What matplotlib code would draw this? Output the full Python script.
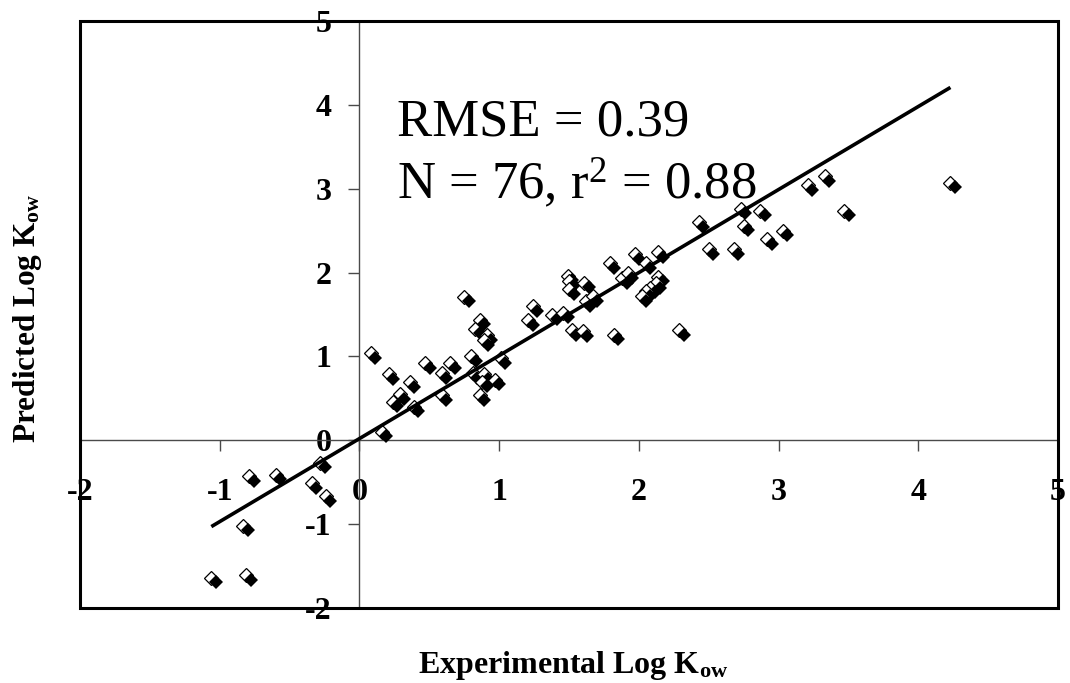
import matplotlib
matplotlib.use('Agg')
import matplotlib.pyplot as plt
from matplotlib.transforms import ScaledTranslation
from matplotlib.patches import Rectangle

plt.rcParams['font.family'] = ['Liberation Serif', 'DejaVu Serif']
plt.rcParams['mathtext.fontset'] = 'custom'
plt.rcParams['mathtext.rm'] = 'Liberation Serif'
plt.rcParams['mathtext.bf'] = 'Liberation Serif:bold'
plt.rcParams['mathtext.it'] = 'Liberation Serif:italic'

# ---- data ----
experimental = [-1.06, -0.81, -0.83, -0.79, -0.60, -0.28, -0.34, -0.24,
                0.16, 0.08, 0.21, 0.29, 0.24, 0.36, 0.39, 0.47, 0.59, 0.65, 0.59, 0.80,
                0.81, 0.89, 0.88, 0.97, 0.86, 1.01, 0.75, 0.86, 0.83, 0.91, 0.89,
                1.24, 1.21, 1.38, 1.46, 1.49, 1.50, 1.50, 1.61, 1.62, 1.67, 1.52, 1.60,
                1.82, 1.79, 1.97, 2.14, 2.05, 1.88, 1.92, 2.14, 2.12, 2.08, 2.05, 2.02, 2.29,
                2.43, 2.73, 2.87, 2.75, 2.50, 2.68, 2.92, 3.03, 3.21, 3.33, 3.47, 4.23]
predicted = [-1.64, -1.61, -1.02, -0.43, -0.41, -0.27, -0.51, -0.67,
             0.10, 1.04, 0.79, 0.55, 0.46, 0.69, 0.40, 0.92, 0.80, 0.92, 0.54, 1.00,
             0.80, 0.79, 0.70, 0.72, 0.54, 0.98, 1.71, 1.44, 1.33, 1.25, 1.19,
             1.60, 1.43, 1.50, 1.52, 1.96, 1.90, 1.80, 1.88, 1.66, 1.72, 1.31, 1.30,
             1.26, 2.11, 2.22, 2.24, 2.11, 1.93, 1.99, 1.95, 1.87, 1.82, 1.78, 1.72, 1.31,
             2.60, 2.76, 2.74, 2.56, 2.28, 2.28, 2.40, 2.50, 3.04, 3.15, 2.74, 3.07]
fit_slope = 0.99
fit_intercept = 0.02
x_ticks = [-2, -1, 0, 1, 2, 3, 4, 5]
x_tick_labels = ['-2', '-1', '0', '1', '2', '3', '4', '5']
y_ticks = [-2, -1, 0, 1, 2, 3, 4, 5]
y_tick_labels = ['-2', '-1', '0', '1', '2', '3', '4', '5']
stats_line1 = 'RMSE = 0.39'
stats_line2 = r'N = 76, $\mathrm{r}^{2}$ = 0.88'

# ---- figure ----
W, H = 1070, 683
fig = plt.figure(figsize=(W / 100, H / 100), dpi=100)
ax = fig.add_axes([80 / W, 1 - 608 / H, 978 / W, 587 / H])
ax.set_xlim(-2, 5)
ax.set_ylim(-2, 5)

ax.spines['left'].set_position(('data', 0))
ax.spines['bottom'].set_position(('data', 0))
ax.spines['top'].set_visible(False)
ax.spines['right'].set_visible(False)
for s in ('left', 'bottom'):
    ax.spines[s].set_color('#4a4a4a')
    ax.spines[s].set_linewidth(1.0)

ax.set_xticks(x_ticks)
ax.set_xticklabels(x_tick_labels, fontweight='bold')
ax.set_yticks(y_ticks)
ax.set_yticklabels(y_tick_labels, fontweight='bold')
ax.tick_params(axis='x', direction='out', length=8, width=1, color='#4a4a4a',
               pad=19, labelsize=23)
ax.tick_params(axis='y', direction='out', length=8, width=1, color='#4a4a4a',
               pad=12, labelsize=23)

ax.add_patch(Rectangle((0, 0), 1, 1, transform=ax.transAxes, fill=False,
                       lw=2.2, ec='black', clip_on=False, zorder=6))

# markers: white diamond with black offset "shadow" on top
off = ax.transData + ScaledTranslation(0.045, -0.045, fig.dpi_scale_trans)
for xv, yv in zip(experimental, predicted):
    ax.plot([xv], [yv], ls='none', marker='D', ms=7.6, mfc='white',
            mec='black', mew=0.9, zorder=3, clip_on=False)
    ax.plot([xv], [yv], ls='none', marker='D', ms=6.8, mfc='black',
            mec='black', mew=0, zorder=3, transform=off, clip_on=False)

# regression line over the data range
x0, x1 = min(experimental), max(experimental)
ax.plot([x0, x1], [fit_intercept + fit_slope * x0, fit_intercept + fit_slope * x1],
        color='black', lw=2.6, zorder=4, solid_capstyle='butt')

ax.text(0.27, 3.63, stats_line1, fontsize=38, ha='left', va='baseline', zorder=5)
ax.text(0.27, 2.88, stats_line2, fontsize=38, ha='left', va='baseline', zorder=5)

fig.text(28 / W, 1 - 318 / H, r'Predicted Log K$_{\mathbf{ow}}$', rotation=90,
         fontweight='bold', fontsize=22.5, ha='center', va='center')
fig.text(573 / W, 1 - 665 / H, r'Experimental Log K$_{\mathbf{ow}}$',
         fontweight='bold', fontsize=23, ha='center', va='center')

fig.savefig('out.png', dpi=100)
